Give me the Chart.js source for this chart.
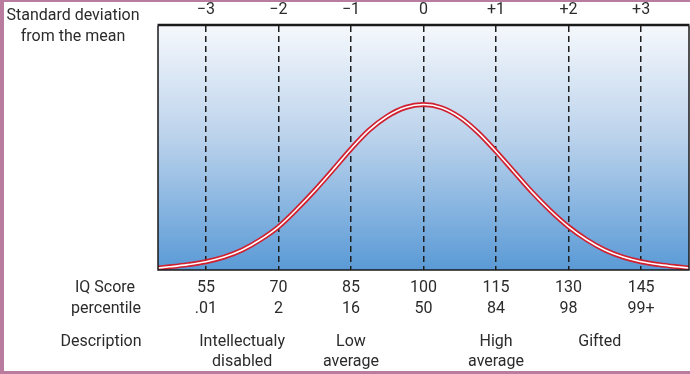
<!DOCTYPE html>
<html>
<head>
<meta charset="utf-8">
<script src="https://cdn.jsdelivr.net/npm/chart.js@4/dist/chart.umd.min.js"></script>
<style>
html,body{margin:0;padding:0;background:#fff;}
canvas{display:block;}
</style>
</head>
<body>
<canvas id="c" width="690" height="374"></canvas>
<script>
// ---- data ----
const sdTicks = [-3, -2, -1, 0, 1, 2, 3];
const sdLabels = ['\u22123', '\u22122', '\u22121', '0', '+1', '+2', '+3'];
const iqLabels = ['55', '70', '85', '100', '115', '130', '145'];
const percentileLabels = ['.01', '2', '16', '50', '84', '98', '99+'];
const descriptionLabels = [['Intellectualy', 'disabled'], ['Low', 'average'], ['High', 'average'], ['Gifted']];
const descriptionAt = [-2.5, -1, 1, 2.43];
const curveSd = [-3.66, -3.5, -3.25, -3, -2.75, -2.5, -2.25, -2, -1.75, -1.5, -1.25, -1, -0.75, -0.5, -0.25, 0,
                 0.25, 0.5, 0.75, 1, 1.25, 1.5, 1.75, 2, 2.25, 2.5, 2.75, 3, 3.25, 3.5, 3.66];
const curveValue = [0.8, 1.3, 2.2, 3.4, 5.3, 8.2, 12.4, 17.7, 24.8, 32.6, 41.0, 49.6, 57.3, 63.0, 66.6, 67.8,
                    66.5, 62.6, 56.4, 48.6, 40.2, 31.8, 24.3, 17.7, 12.4, 8.2, 5.3, 3.4, 2.2, 1.3, 0.8];

const points = curveSd.map((x, i) => ({x: x, y: curveValue[i]}));
const FONT = '16px Roboto, "DejaVu Sans", sans-serif';
const TEXT = '#2b2b2b';

const decor = {
  id: 'decor',
  beforeDraw(chart) {
    const {ctx, chartArea: a} = chart;
    ctx.save();
    ctx.fillStyle = '#fff';
    ctx.fillRect(0, 0, chart.width, chart.height);
    const g = ctx.createLinearGradient(0, a.top, 0, a.bottom);
    g.addColorStop(0, '#f5f8fc');
    g.addColorStop(0.45, '#bcd3ec');
    g.addColorStop(1, '#5a9ad6');
    ctx.fillStyle = g;
    ctx.fillRect(a.left, a.top, a.right - a.left, a.bottom - a.top);
    // page frame
    ctx.fillStyle = '#b97c9f';
    ctx.fillRect(0, 0, 4, chart.height);
    ctx.fillRect(0, 0, chart.width, 2);
    ctx.fillRect(0, chart.height - 3, chart.width, 3);
    ctx.restore();
  },
  afterDraw(chart) {
    const {ctx, chartArea: a} = chart;
    const xs = chart.scales.x;
    ctx.save();
    // plot frame
    ctx.strokeStyle = '#1a1a1a';
    ctx.lineWidth = 1.5;
    ctx.beginPath();
    ctx.moveTo(a.left, a.top); ctx.lineTo(a.left, a.bottom); ctx.lineTo(a.right, a.bottom); ctx.lineTo(a.right, a.top);
    ctx.stroke();
    ctx.lineWidth = 2.5;
    ctx.beginPath();
    ctx.moveTo(a.left - 0.5, a.top - 1); ctx.lineTo(a.right + 0.5, a.top - 1);
    ctx.stroke();

    ctx.fillStyle = TEXT;
    ctx.font = FONT;
    ctx.textAlign = 'center';
    ctx.textBaseline = 'middle';
    // row headers
    ctx.fillText('Standard deviation', 73, 16);
    ctx.fillText('from the mean', 73, 37);
    ctx.fillText('IQ Score', 105, 288);
    ctx.fillText('percentile', 106, 309);
    ctx.fillText('Description', 101, 342);
    sdTicks.forEach((v, i) => {
      const px = xs.getPixelForValue(v);
      ctx.fillText(sdLabels[i], px, 10);
      ctx.fillText(iqLabels[i], px, 288);
      ctx.fillText(percentileLabels[i], px, 309);
    });
    descriptionLabels.forEach((lines, i) => {
      const px = xs.getPixelForValue(descriptionAt[i]);
      lines.forEach((t, j) => ctx.fillText(t, px, 342 + j * 20));
    });
    ctx.restore();
  }
};

new Chart(document.getElementById('c'), {
  type: 'line',
  data: {
    datasets: [
      {data: points, borderColor: '#ffffff', borderWidth: 1.6, pointRadius: 0, cubicInterpolationMode: 'monotone', fill: false},
      {data: points, borderColor: '#d0202f', borderWidth: 5, pointRadius: 0, cubicInterpolationMode: 'monotone', fill: false}
    ]
  },
  options: {
    responsive: false,
    devicePixelRatio: 1,
    animation: false,
    events: [],
    layout: {padding: {left: 158, top: 26, right: 1, bottom: 104}},
    plugins: {legend: {display: false}, tooltip: {enabled: false}, title: {display: false}},
    scales: {
      x: {
        type: 'linear', min: -3.66, max: 3.66,
        afterBuildTicks: s => { s.ticks = sdTicks.map(v => ({value: v})); },
        afterFit: s => { s.height = 0; },
        ticks: {display: false},
        grid: {color: '#1e1e1e', lineWidth: 1.5, drawTicks: false},
        border: {display: false, dash: [6, 4]}
      },
      y: {
        display: false, min: 0, max: 100
      }
    }
  },
  plugins: [decor]
});
</script>
</body>
</html>
